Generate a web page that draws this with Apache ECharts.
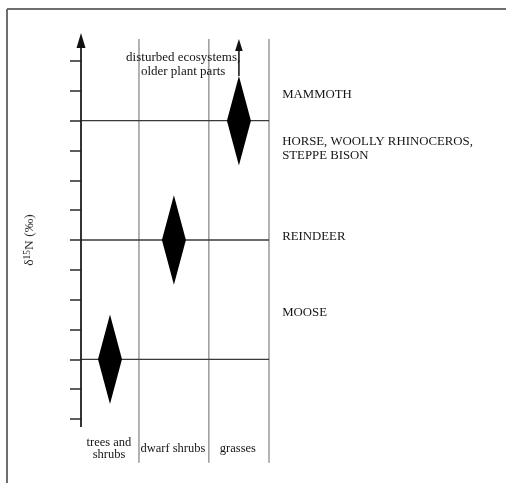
<!DOCTYPE html>
<html>
<head>
<meta charset="utf-8">
<title>δ15N by diet</title>
<script src="https://cdn.jsdelivr.net/npm/echarts@6/dist/echarts.min.js"></script>
<style>
  html, body { margin: 0; padding: 0; background: #fff; }
  #chart { width: 506px; height: 483px; }
</style>
</head>
<body>
<div id="chart"></div>
<script>
// Plant groups along the x axis and the positions of the column dividers
const columns = ['trees and\nshrubs', 'dwarf shrubs', 'grasses'];
const columnEdges = [0, 0.925, 2.04, 3];

// δ15N ranges (diamonds) per plant group, in tick units
const centerValue = [2, 6, 10];
const lowValue = [0.5, 4.5, 8.5];
const highValue = [3.5, 7.5, 11.5];

// Herbivores listed to the right, by δ15N level
const animals = ['MOOSE', 'REINDEER', 'HORSE, WOOLLY RHINOCEROS,\nSTEPPE BISON', 'MAMMOTH'];
const animalLevels = [3.55, 6.1, 9.05, 10.86];

// Reference levels drawn as horizontal lines
const levelLines = [2, 6, 10];

// Axis extent (no tick labels)
const yMin = 0;
const yMax = 12;
const axisBottom = -0.27;
const axisTop = 12.94;
const grassArrowTop = 12.74;
const dividerBottom = -1.47;
const dividerTop = 12.74;

const note = 'disturbed ecosystems,\nolder plant parts';
const noteAt = [1.63, 11.87];
const columnLabelLevel = -1.0;
const animalLabelX = 3.21;

const SERIF = '"Liberation Serif", "DejaVu Serif", serif';
const INK = '#151515';

const columnMid = columns.map((c, i) => (columnEdges[i] + columnEdges[i + 1]) / 2);

const chart = echarts.init(document.getElementById('chart'), null, { renderer: 'canvas' });

function arrowHead(api, x, tipV, lenPx, halfW, color) {
  const tip = api.coord([x, tipV]);
  return {
    type: 'polygon',
    shape: { points: [[tip[0], tip[1]], [tip[0] + halfW, tip[1] + lenPx], [tip[0] - halfW, tip[1] + lenPx]] },
    style: { fill: color }
  };
}

chart.setOption({
  animation: false,
  backgroundColor: '#fff',
  grid: { left: 81, right: 237, top: 61, bottom: 64, containLabel: false },
  xAxis: {
    type: 'value', min: 0, max: 3,
    show: false
  },
  yAxis: {
    type: 'value', min: yMin, max: yMax, interval: 1,
    name: '{d|δ}{s|15}{d|N (‰)}',
    nameLocation: 'middle',
    nameRotate: 90,
    nameGap: 44,
    nameTextStyle: {
      rich: {
        d: { fontFamily: SERIF, fontSize: 13.5, color: '#2a2a2a' },
        s: { fontFamily: SERIF, fontSize: 9.5, color: '#2a2a2a', verticalAlign: 'top', padding: [0, 0, 5, 0] }
      }
    },
    axisLine: { show: false },
    axisTick: { show: true, length: 11, lineStyle: { color: '#2a2a2a', width: 1.5 } },
    axisLabel: { show: false },
    splitLine: { show: false }
  },
  graphic: [
    { type: 'line', shape: { x1: 7, y1: 9, x2: 506, y2: 9 }, style: { stroke: '#6e6e6e', lineWidth: 2 } },
    { type: 'line', shape: { x1: 7, y1: 9, x2: 7, y2: 483 }, style: { stroke: '#6e6e6e', lineWidth: 2 } }
  ],
  series: [
    // column dividers
    {
      type: 'custom', clip: false, silent: true,
      data: columnEdges.slice(1).map(e => [e]),
      renderItem(params, api) {
        const x = api.value(0);
        const a = api.coord([x, dividerBottom]);
        const b = api.coord([x, dividerTop]);
        return { type: 'line', shape: { x1: a[0], y1: a[1], x2: b[0], y2: b[1] },
          style: { stroke: '#8a8a8a', lineWidth: 1.3 } };
      }
    },
    // horizontal level lines
    {
      type: 'custom', clip: false, silent: true,
      data: levelLines.map(v => [v]),
      renderItem(params, api) {
        const v = api.value(0);
        const a = api.coord([0, v]);
        const b = api.coord([3, v]);
        return { type: 'line', shape: { x1: a[0], y1: a[1], x2: b[0], y2: b[1] },
          style: { stroke: '#3a3a3a', lineWidth: 1.4 } };
      }
    },
    // y axis with arrow
    {
      type: 'custom', clip: false, silent: true,
      data: [[0, axisBottom, axisTop]],
      renderItem(params, api) {
        const x = api.value(0);
        const a = api.coord([x, api.value(1)]);
        const b = api.coord([x, api.value(2)]);
        return { type: 'group', children: [
          { type: 'line', shape: { x1: a[0], y1: a[1], x2: b[0], y2: b[1] + 8 },
            style: { stroke: '#1e1e1e', lineWidth: 1.8 } },
          arrowHead(api, x, api.value(2), 15, 4.5, '#111')
        ] };
      }
    },
    // δ15N ranges as diamonds
    {
      type: 'custom', clip: false, silent: true,
      data: columnMid.map((m, i) => [m, centerValue[i], lowValue[i], highValue[i]]),
      renderItem(params, api) {
        const x = api.value(0);
        const c = api.coord([x, api.value(1)]);
        const lo = api.coord([x, api.value(2)]);
        const hi = api.coord([x, api.value(3)]);
        const hw = 12;
        const children = [{
          type: 'polygon',
          shape: { points: [[hi[0], hi[1]], [c[0] + hw, c[1]], [lo[0], lo[1]], [c[0] - hw, c[1]]] },
          style: { fill: '#000' }
        }];
        if (params.dataIndex === columns.length - 1) {
          const t = api.coord([x, grassArrowTop]);
          children.push({ type: 'line', shape: { x1: hi[0], y1: hi[1], x2: t[0], y2: t[1] + 8 },
            style: { stroke: '#1e1e1e', lineWidth: 1.6 } });
          children.push(arrowHead(api, x, grassArrowTop, 12, 3.8, '#111'));
        }
        return { type: 'group', children };
      }
    },
    // column labels under the plot
    {
      type: 'custom', clip: false, silent: true,
      data: columnMid.map((m, i) => [m, columnLabelLevel, i]),
      renderItem(params, api) {
        const p = api.coord([api.value(0), api.value(1)]);
        return { type: 'text', x: p[0] - 1, y: p[1],
          style: { text: columns[api.value(2)], fontFamily: SERIF, fontSize: 12.5, fill: INK,
            align: 'center', verticalAlign: 'middle', lineHeight: 12 } };
      }
    },
    // herbivore labels on the right
    {
      type: 'custom', clip: false, silent: true,
      data: animals.map((a, i) => [animalLabelX, animalLevels[i], i]),
      renderItem(params, api) {
        const p = api.coord([api.value(0), api.value(1)]);
        return { type: 'text', x: p[0], y: p[1],
          style: { text: animals[api.value(2)], fontFamily: SERIF, fontSize: 12.8, fill: INK,
            align: 'left', verticalAlign: 'middle', lineHeight: 14 } };
      }
    },
    // note above the columns
    {
      type: 'custom', clip: false, silent: true,
      data: [noteAt],
      renderItem(params, api) {
        const p = api.coord([api.value(0), api.value(1)]);
        return { type: 'text', x: p[0], y: p[1],
          style: { text: note, fontFamily: SERIF, fontSize: 13, fill: INK,
            align: 'center', verticalAlign: 'middle', lineHeight: 14 } };
      }
    }
  ]
});
</script>
</body>
</html>
